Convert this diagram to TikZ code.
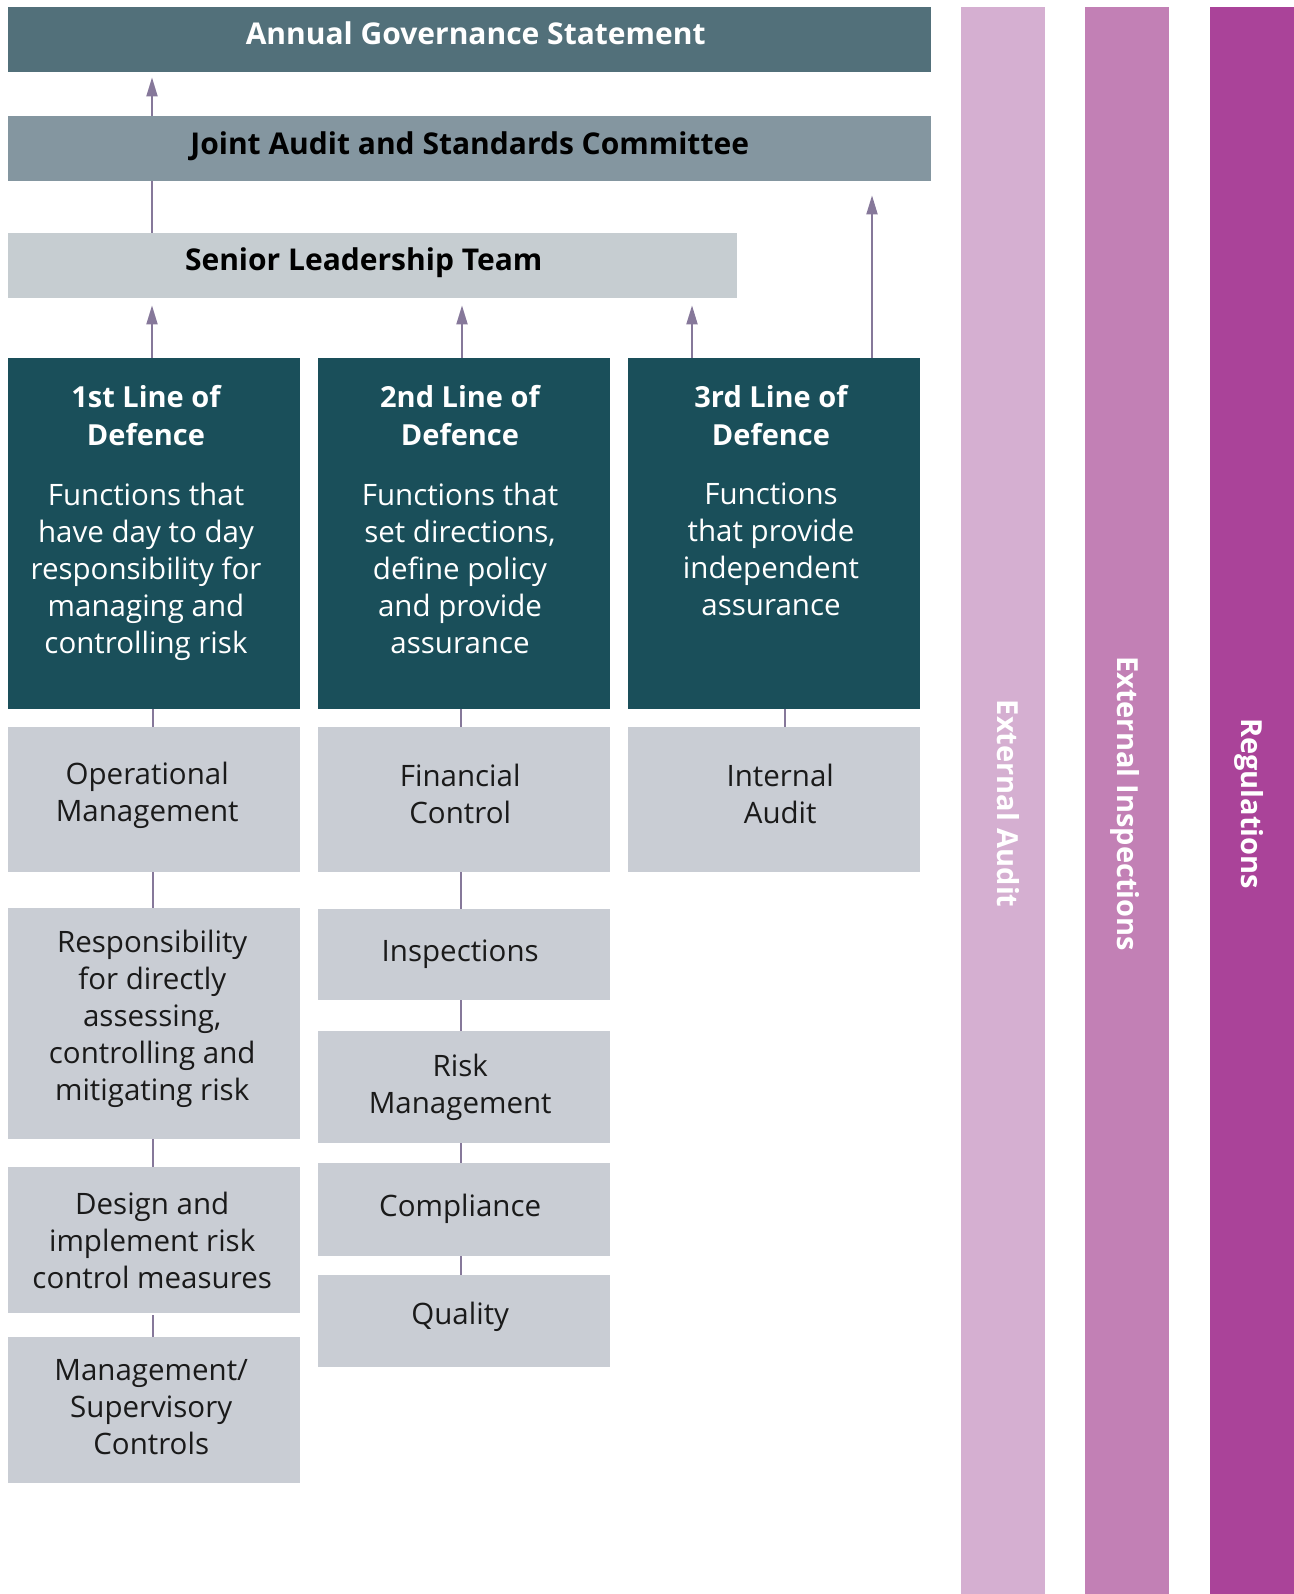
\documentclass[tikz,border=0pt]{standalone}
\usepackage{fontspec}
\setmainfont{Open Sans}
\usetikzlibrary{arrows.meta}
\definecolor{agsC}{HTML}{52707A}
\definecolor{jascC}{HTML}{8496A0}
\definecolor{sltC}{HTML}{C6CDD1}
\definecolor{defC}{HTML}{1A4F5A}
\definecolor{grayC}{HTML}{C9CDD4}
\definecolor{barA}{HTML}{D5AFD1}
\definecolor{barB}{HTML}{C280B5}
\definecolor{barC}{HTML}{AA4399}
\definecolor{lineC}{HTML}{86789A}
\definecolor{txtC}{HTML}{1A1A1A}
\tikzset{
  box/.style={draw=none, inner sep=0pt, anchor=north west},
  headbox/.style={box, minimum width=923pt, minimum height=65pt},
  headtext/.style={inner sep=0pt, font=\fontsize{30}{34}\selectfont\bfseries},
  defbox/.style={box, fill=defC, minimum width=292pt, minimum height=351pt},
  graybox/.style={box, fill=grayC, minimum width=292pt},
  graytext/.style={inner sep=0pt, text=txtC, align=center, font=\fontsize{29.5}{37}\selectfont},
  deftitle/.style={anchor=north, align=center, text=white, inner sep=0pt, font=\fontsize{29}{38}\selectfont\bfseries},
  defbody/.style={anchor=north, align=center, text=white, inner sep=0pt, font=\fontsize{29.5}{37}\selectfont},
  barbox/.style={box, minimum width=84pt, minimum height=1587pt},
  bartext/.style={rotate=-90, text=white, inner sep=0pt, font=\fontsize{29}{34}\selectfont\bfseries},
  conn/.style={draw=lineC, line width=2pt},
  arr/.style={conn, -{Triangle[length=19pt,width=11pt]}},
}
\begin{document}
\begin{tikzpicture}[x=1pt,y=-1pt]
\useasboundingbox (0,0) rectangle (1293,1594);
% top boxes
\node[headbox, fill=agsC] (ags) at (8,7) {};
\node[headbox, fill=jascC] (jasc) at (8,116) {};
\node[headbox, fill=sltC, minimum width=729pt] (slt) at (8,233) {};
\node[headtext, text=white] (agst) at ([xshift=6pt,yshift=6pt]ags.center) {Annual Governance Statement};
\node[headtext, text=black] (jasct) at ([yshift=2pt]jasc.center) {Joint Audit and Standards Committee};
\node[headtext, text=black] (sltt) at ([xshift=-9pt,yshift=3pt]slt.center) {Senior Leadership Team};
% defence boxes
\node[defbox] (d1) at (8,358) {};
\node[defbox] (d2) at (318,358) {};
\node[defbox] (d3) at (628,358) {};
\node[deftitle] (d1t) at (146,385) {1st Line of\\Defence};
\node[deftitle] (d2t) at (460,385) {2nd Line of\\Defence};
\node[deftitle] (d3t) at (771,385) {3rd Line of\\Defence};
\node[defbody] (d1b) at (146,483) {Functions that\\have day to day\\responsibility for\\managing and\\controlling risk};
\node[defbody] (d2b) at (460,483) {Functions that\\set directions,\\define policy\\and provide\\assurance};
\node[defbody] (d3b) at (771,483) {Functions\\that provide\\independent\\assurance};
% column 1
\node[graybox, minimum height=145pt] (op) at (8,727) {};
\node[graybox, minimum height=231pt] (resp) at (8,908) {};
\node[graybox, minimum height=146pt] (design) at (8,1167) {};
\node[graybox, minimum height=146pt] (mgmt) at (8,1337) {};
\node[graytext] (opt) at ([xshift=-7pt,yshift=4pt]op.center) {Operational\\Management};
\node[graytext] (respt) at ([xshift=-2pt,yshift=5pt]resp.center) {Responsibility\\for directly\\assessing,\\controlling and\\mitigating risk};
\node[graytext] (designt) at ([xshift=-2pt]design.center) {Design and\\implement risk\\control measures};
\node[graytext] (mgmtt) at ([xshift=-3pt,yshift=3pt]mgmt.center) {Management/\\Supervisory\\Controls};
% column 2
\node[graybox, minimum height=145pt] (fin) at (318,727) {};
\node[graybox, minimum height=91pt] (insp) at (318,909) {};
\node[graybox, minimum height=112pt] (risk) at (318,1031) {};
\node[graybox, minimum height=93pt] (comp) at (318,1163) {};
\node[graybox, minimum height=92pt] (qual) at (318,1275) {};
\node[graytext] (fint) at ([xshift=-4pt,yshift=6pt]fin.center) {Financial\\Control};
\node[graytext] (inspt) at ([xshift=-4pt]insp.center) {Inspections};
\node[graytext] (riskt) at ([xshift=-4pt]risk.center) {Risk\\Management};
\node[graytext] (compt) at ([xshift=-4pt,yshift=1pt]comp.center) {Compliance};
\node[graytext] (qualt) at ([xshift=-4pt,yshift=4pt]qual.center) {Quality};
% column 3
\node[graybox, minimum height=145pt] (ia) at (628,727) {};
\node[graytext] (iat) at ([xshift=6pt,yshift=6pt]ia.center) {Internal\\Audit};
% bars
\node[barbox, fill=barA] (bar1) at (961,7) {};
\node[barbox, fill=barB] (bar2) at (1085,7) {};
\node[barbox, fill=barC] (bar3) at (1210,7) {};
\node[bartext] (bar1t) at ([xshift=5pt,yshift=-3pt]bar1.center) {External Audit};
\node[bartext] (bar2t) at ([xshift=-2pt,yshift=-3pt]bar2.center) {External Inspections};
\node[bartext] (bar3t) at ([xshift=-3pt,yshift=-3pt]bar3.center) {Regulations};
% connectors
\coordinate (c1) at (153,0);
\coordinate (c2) at (461,0);
\coordinate (c3) at (785,0);
\draw[conn] (d1.south -| c1) -- (op.north -| c1);
\draw[conn] (op.south -| c1) -- (resp.north -| c1);
\draw[conn] (resp.south -| c1) -- (design.north -| c1);
\draw[conn] ([yshift=-2pt]design.south -| c1) -- (mgmt.north -| c1);
\draw[conn] (d2.south -| c2) -- (fin.north -| c2);
\draw[conn] (fin.south -| c2) -- (insp.north -| c2);
\draw[conn] (insp.south -| c2) -- (risk.north -| c2);
\draw[conn] (risk.south -| c2) -- (comp.north -| c2);
\draw[conn] (comp.south -| c2) -- (qual.north -| c2);
\draw[conn] (d3.south -| c3) -- (ia.north -| c3);
% arrows up
\coordinate (a1) at (152,0);
\coordinate (a2) at (462,0);
\coordinate (a3) at (692,0);
\coordinate (a4) at (872,0);
\draw[arr, shorten >=7pt] (d1.north -| a1) -- (slt.south -| a1);
\draw[arr, shorten >=7pt] (d2.north -| a2) -- (slt.south -| a2);
\draw[arr, shorten >=7pt] (d3.north -| a3) -- (slt.south -| a3);
\draw[arr, shorten >=14pt] (d3.north -| a4) -- (jasc.south -| a4);
\draw[conn] (slt.north -| a1) -- (jasc.south -| a1);
\draw[arr, shorten >=5pt] (jasc.north -| a1) -- (ags.south -| a1);
\end{tikzpicture}
\end{document}
